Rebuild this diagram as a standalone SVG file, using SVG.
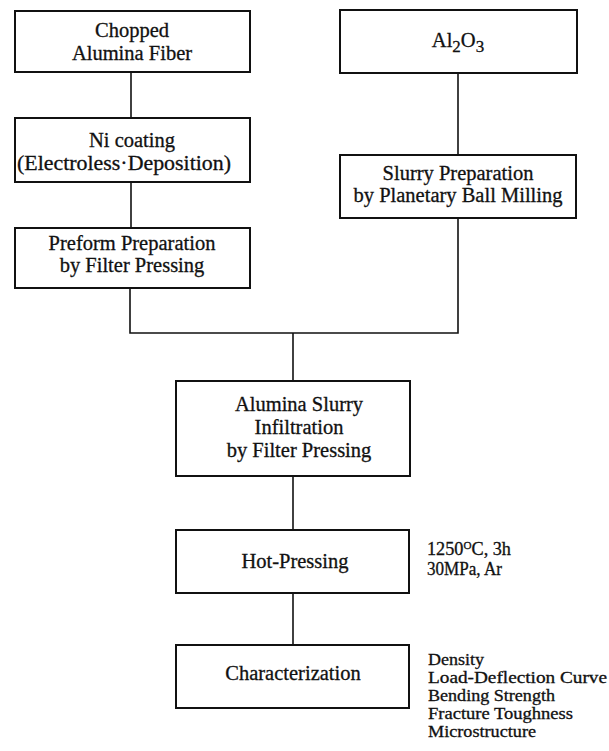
<svg xmlns="http://www.w3.org/2000/svg" width="609" height="751" viewBox="0 0 609 751" font-family="'Liberation Serif', 'Times New Roman', Tinos, 'DejaVu Serif', serif">
<style>
.box{fill:#fff;stroke:#111;stroke-width:2}
.conn{fill:none;stroke:#111;stroke-width:1.6}
text{fill:#111;stroke:#111;stroke-width:0.3}
.t{font-size:20.5px;text-anchor:middle}
.a{font-size:18px}
.n{font-size:16px}
</style>
<rect width="609" height="751" fill="#fff"/>
<g id="connectors">
<line class="conn" x1="131" y1="72" x2="131" y2="118"/>
<line class="conn" x1="131" y1="182" x2="131" y2="228"/>
<polyline class="conn" points="130,288 130,333 458,333 458,218"/>
<line class="conn" x1="458" y1="73" x2="458" y2="155"/>
<line class="conn" x1="293" y1="333" x2="293" y2="381"/>
<line class="conn" x1="293" y1="476" x2="293" y2="530"/>
<line class="conn" x1="293" y1="593" x2="293" y2="645"/>
</g>
<g id="chopped">
<rect class="box" x="15" y="11" width="235" height="61"/>
<text class="t" x="132" y="37">Chopped</text>
<text class="t" x="132" y="60">Alumina Fiber</text>
</g>
<g id="ni">
<rect class="box" x="15" y="118" width="235" height="64"/>
<text class="t" x="132" y="147">Ni coating</text>
<text class="t" x="124" y="170" textLength="214" lengthAdjust="spacingAndGlyphs">(Electroless·Deposition)</text>
</g>
<g id="preform">
<rect class="box" x="15" y="228" width="235" height="60"/>
<text class="t" x="132" y="250">Preform Preparation</text>
<text class="t" x="132" y="272">by Filter Pressing</text>
</g>
<g id="al2o3">
<rect class="box" x="340" y="10" width="237" height="63"/>
<text class="t" x="458" y="47">Al<tspan font-size="17" dy="5">2</tspan><tspan dy="-5">O</tspan><tspan font-size="17" dy="5">3</tspan></text>
</g>
<g id="slurry">
<rect class="box" x="340" y="155" width="236" height="63"/>
<text class="t" x="458" y="180">Slurry Preparation</text>
<text class="t" x="458" y="202">by Planetary Ball Milling</text>
</g>
<g id="infiltration">
<rect class="box" x="176" y="381" width="234" height="95"/>
<text class="t" x="299" y="411">Alumina Slurry</text>
<text class="t" x="299" y="434">Infiltration</text>
<text class="t" x="299" y="457">by Filter Pressing</text>
</g>
<g id="hotpressing">
<rect class="box" x="176" y="530" width="233" height="63"/>
<text class="t" x="295" y="568">Hot-Pressing</text>
<text class="a" x="427" y="555" textLength="84" lengthAdjust="spacingAndGlyphs">1250<tspan font-size="11" dy="-6">O</tspan><tspan dy="6">C, 3h</tspan></text>
<text class="a" x="427" y="575" textLength="75" lengthAdjust="spacingAndGlyphs">30MPa, Ar</text>
</g>
<g id="characterization">
<rect class="box" x="176" y="645" width="233" height="63"/>
<text class="t" x="293" y="680">Characterization</text>
<text class="n" x="428" y="665" textLength="56" lengthAdjust="spacingAndGlyphs">Density</text>
<text class="n" x="428" y="683" textLength="179" lengthAdjust="spacingAndGlyphs">Load-Deflection Curve</text>
<text class="n" x="428" y="701" textLength="127" lengthAdjust="spacingAndGlyphs">Bending Strength</text>
<text class="n" x="428" y="719" textLength="145" lengthAdjust="spacingAndGlyphs">Fracture Toughness</text>
<text class="n" x="428" y="737" textLength="108" lengthAdjust="spacingAndGlyphs">Microstructure</text>
</g>
</svg>
